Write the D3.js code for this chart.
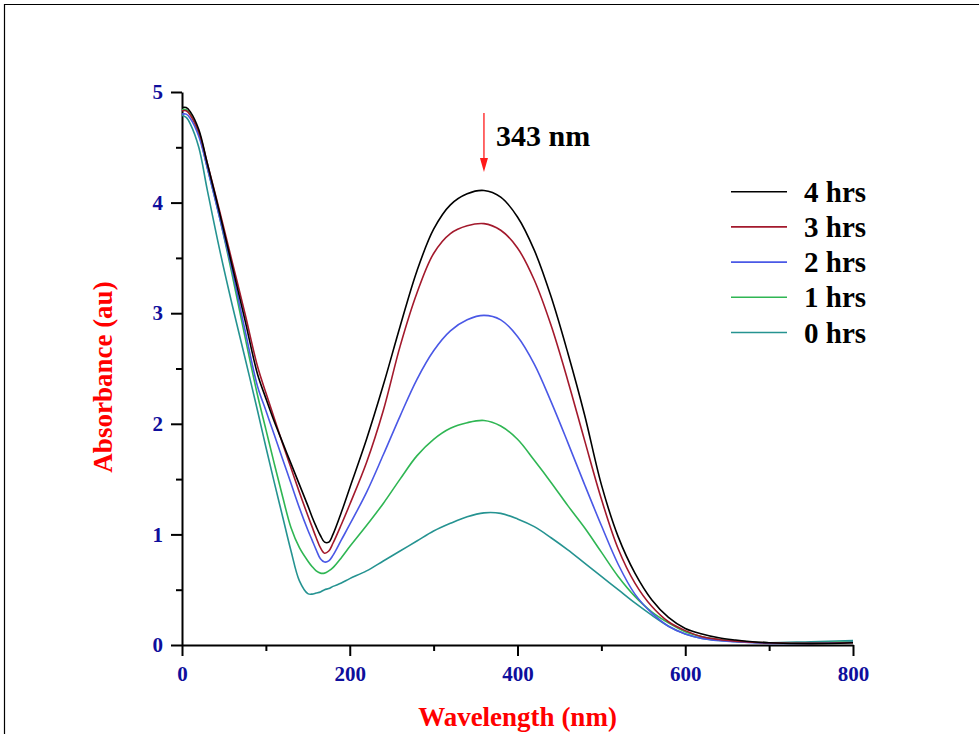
<!DOCTYPE html>
<html>
<head>
<meta charset="utf-8">
<script src="https://cdn.jsdelivr.net/npm/d3@7"></script>
<style>
  html, body { margin: 0; padding: 0; background: #fff; }
  svg { display: block; }
  text { font-family: "Liberation Serif", "Times New Roman", serif; font-weight: bold; }
</style>
</head>
<body>
<svg id="chart" width="979" height="734"></svg>
<script>
// UV-Vis absorbance spectra recorded at successive times
const wavelengths = [0, 5, 10, 20, 30, 45, 60, 75, 90, 100, 110, 120, 130, 140, 150, 155, 160, 165, 170, 175,
  180, 190, 200, 220, 240, 260, 280, 300, 320, 340, 360, 380, 400, 420, 440, 460, 480, 500, 520, 540,
  560, 580, 600, 620, 640, 660, 680, 700, 750, 800];

const abs4h = [4.86, 4.86, 4.82, 4.66, 4.36, 3.90, 3.42, 2.94, 2.45, 2.23, 2.02, 1.83, 1.64, 1.45, 1.26, 1.16, 1.07, 0.99, 0.93, 0.93,
  1.00, 1.20, 1.42, 1.86, 2.35, 2.88, 3.38, 3.76, 3.98, 4.08, 4.11, 4.05, 3.87, 3.57, 3.15, 2.64, 2.08, 1.45, 0.98, 0.65,
  0.41, 0.25, 0.15, 0.10, 0.065, 0.045, 0.03, 0.02, 0.012, 0.02];

const abs3h = [4.83, 4.83, 4.79, 4.64, 4.36, 3.92, 3.46, 3.00, 2.52, 2.28, 2.05, 1.82, 1.60, 1.38, 1.17, 1.07, 0.97, 0.88, 0.83, 0.85,
  0.92, 1.09, 1.27, 1.65, 2.12, 2.70, 3.18, 3.54, 3.72, 3.79, 3.81, 3.75, 3.59, 3.30, 2.89, 2.39, 1.85, 1.32, 0.87, 0.56,
  0.35, 0.21, 0.13, 0.075, 0.05, 0.035, 0.025, 0.02, 0.015, 0.02];

const abs2h = [4.80, 4.80, 4.76, 4.60, 4.32, 3.86, 3.38, 2.85, 2.34, 2.12, 1.90, 1.68, 1.46, 1.24, 1.04, 0.95, 0.86, 0.78, 0.75, 0.76,
  0.81, 0.95, 1.09, 1.38, 1.72, 2.07, 2.40, 2.66, 2.84, 2.94, 2.98, 2.94, 2.79, 2.54, 2.20, 1.83, 1.45, 1.08, 0.73, 0.46,
  0.29, 0.17, 0.10, 0.06, 0.04, 0.03, 0.02, 0.015, 0.015, 0.025];

const abs1h = [4.84, 4.84, 4.80, 4.62, 4.32, 3.86, 3.34, 2.79, 2.26, 1.95, 1.64, 1.34, 1.06, 0.88, 0.76, 0.71, 0.67, 0.65, 0.65, 0.67,
  0.70, 0.79, 0.89, 1.08, 1.28, 1.50, 1.71, 1.86, 1.96, 2.01, 2.03, 1.98, 1.86, 1.67, 1.47, 1.26, 1.06, 0.84, 0.62, 0.44,
  0.30, 0.20, 0.12, 0.075, 0.05, 0.035, 0.025, 0.02, 0.02, 0.03];

const abs0h = [4.79, 4.77, 4.71, 4.50, 4.12, 3.57, 3.07, 2.60, 2.12, 1.79, 1.47, 1.16, 0.85, 0.58, 0.465, 0.46, 0.47, 0.48, 0.50, 0.51,
  0.53, 0.56, 0.60, 0.67, 0.76, 0.85, 0.94, 1.03, 1.10, 1.16, 1.195, 1.19, 1.14, 1.07, 0.97, 0.86, 0.74, 0.62, 0.50, 0.38,
  0.27, 0.17, 0.10, 0.06, 0.04, 0.03, 0.025, 0.02, 0.03, 0.04];

const seriesNames = ["4 hrs", "3 hrs", "2 hrs", "1 hrs", "0 hrs"];
const seriesValues = [abs4h, abs3h, abs2h, abs1h, abs0h];
const seriesColors = ["#000000", "#a3192c", "#4a58e6", "#2fb653", "#259391"];

const xTicks = [0, 200, 400, 600, 800];
const xMinorTicks = [100, 300, 500, 700];
const yTicks = [0, 1, 2, 3, 4, 5];
const yMinorTicks = [0.5, 1.5, 2.5, 3.5, 4.5];

const peakLabel = "343 nm";
const xTitle = "Wavelength (nm)";
const yTitle = "Absorbance (au)";

const svg = d3.select("#chart");
const W = 979, H = 734;

// outer frame (top and left edges)
svg.append("path")
  .attr("d", `M4.5,${H} V4.5 H${W}`)
  .attr("fill", "none")
  .attr("stroke", "#000")
  .attr("stroke-width", 1.2);

const x = d3.scaleLinear().domain([0, 800]).range([182, 853]);
const y = d3.scaleLinear().domain([0, 5]).range([645, 92]);

const tickColor = "#0e0e9c";

// minor ticks
svg.append("g")
  .attr("transform", `translate(0,${y(0)})`)
  .call(d3.axisBottom(x).tickValues(xMinorTicks).tickSize(6).tickFormat(""))
  .call(g => g.select(".domain").remove())
  .call(g => g.selectAll("line").attr("stroke-width", 2));
svg.append("g")
  .attr("transform", `translate(${x(0)},0)`)
  .call(d3.axisLeft(y).tickValues(yMinorTicks).tickSize(6).tickFormat(""))
  .call(g => g.select(".domain").remove())
  .call(g => g.selectAll("line").attr("stroke-width", 2));

// major axes
const gx = svg.append("g")
  .attr("transform", `translate(0,${y(0)})`)
  .call(d3.axisBottom(x).tickValues(xTicks).tickSize(11).tickSizeOuter(0).tickPadding(10).tickFormat(d3.format("d")));
const gy = svg.append("g")
  .attr("transform", `translate(${x(0)},0)`)
  .call(d3.axisLeft(y).tickValues(yTicks).tickSize(11).tickSizeOuter(0).tickPadding(8).tickFormat(d3.format("d")));

[gx, gy].forEach(g => {
  g.select(".domain").attr("stroke-width", 2);
  g.selectAll(".tick line").attr("stroke-width", 2);
  g.selectAll(".tick text")
    .attr("fill", tickColor)
    .style("font-size", "21px")
    .style("font-family", "'Liberation Serif', 'Times New Roman', serif")
    .style("font-weight", "bold");
});

// spectra
const line = d3.line()
  .x((d, i) => x(wavelengths[i]))
  .y(d => y(d))
  .curve(d3.curveCatmullRom.alpha(0.5));

const order = [4, 3, 2, 1, 0];
order.forEach(k => {
  svg.append("path")
    .datum(seriesValues[k])
    .attr("fill", "none")
    .attr("stroke", seriesColors[k])
    .attr("stroke-width", 1.6)
    .attr("d", line);
});

// arrow marking the absorption band maximum of the longest exposure
const bandIdx = wavelengths.map((w, i) => i).filter(i => wavelengths[i] >= 250);
const peakIdx = bandIdx[d3.maxIndex(bandIdx, i => abs4h[i])];
const ax = x(wavelengths[peakIdx]);
svg.append("line")
  .attr("x1", ax).attr("x2", ax)
  .attr("y1", 113).attr("y2", 160)
  .attr("stroke", "#ff1a1a")
  .attr("stroke-width", 1.3);
svg.append("path")
  .attr("d", `M${ax - 4},158 L${ax + 4},158 L${ax},172 Z`)
  .attr("fill", "#ff1a1a");
svg.append("text")
  .attr("x", 496)
  .attr("y", 146)
  .attr("fill", "#000")
  .style("font-size", "30px")
  .text(peakLabel);

// legend
const legend = svg.append("g");
seriesNames.forEach((name, i) => {
  const ly = 191.7 + i * 35.2;
  legend.append("line")
    .attr("x1", 731).attr("x2", 787)
    .attr("y1", ly).attr("y2", ly)
    .attr("stroke", seriesColors[i])
    .attr("stroke-width", 1.6);
  legend.append("text")
    .attr("x", 804)
    .attr("y", ly)
    .attr("dy", "0.35em")
    .attr("fill", "#000")
    .style("font-size", "29px")
    .text(name);
});

// axis titles
svg.append("text")
  .attr("x", (x(0) + x(800)) / 2)
  .attr("y", 726)
  .attr("text-anchor", "middle")
  .attr("fill", "#ff0000")
  .style("font-size", "27px")
  .text(xTitle);

svg.append("text")
  .attr("transform", `translate(112,377) rotate(-90)`)
  .attr("text-anchor", "middle")
  .attr("fill", "#ff0000")
  .style("font-size", "27px")
  .text(yTitle);
</script>
</body>
</html>
